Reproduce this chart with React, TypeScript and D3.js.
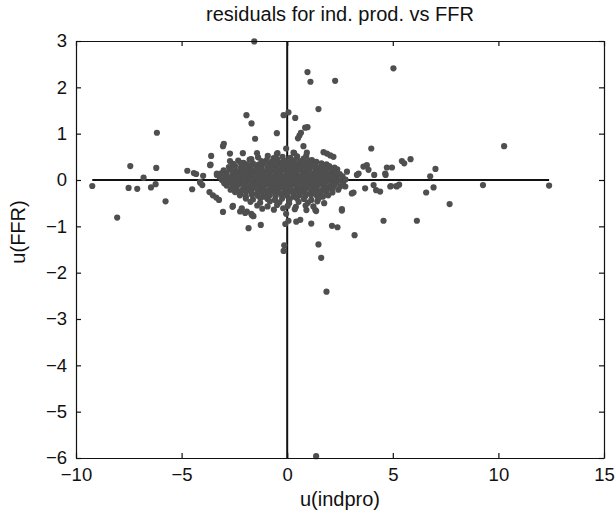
import React, { useEffect, useRef } from "react";
import * as d3 from "d3";

// residuals u(indpro) vs u(FFR), scattered points
const outerPoints: [number, number][] = [
  [-6.17, 1.02], [-3.04, 0.73], [-3.0, 0.78], [-3.6, 0.52], [-2.71, 0.57], [-3.63, 0.33],
  [-2.71, 0.41], [-7.43, 0.3], [-6.2, 0.26], [-6.8, 0.05], [-9.23, -0.13], [-7.51, -0.17],
  [-7.1, -0.19], [-6.45, -0.16], [-6.23, -0.09], [-5.76, -0.46], [-8.05, -0.81], [-4.73, 0.2],
  [-4.42, 0.15], [-4.31, 0.13], [-3.98, 0.09], [-4.12, -0.04], [-4.02, -0.11], [-4.5, -0.2],
  [-3.68, -0.26], [-3.52, -0.33], [-3.36, -0.38], [-3.23, -0.43], [-3.04, -0.69], [-2.59, -0.58],
  [-3.33, 0.11], [-3.65, 0.32], [-2.07, 0.37], [-3.33, 0.14], [-4.12, -0.06], [-2.57, -0.56],
  [-2.15, -0.61], [-1.91, -0.68], [-1.67, -0.76],
  [-1.56, 2.99], [0.96, 2.33], [1.1, 2.12], [2.27, 2.14], [1.48, 1.53], [-1.93, 1.4],
  [-1.69, 1.22], [-0.17, 1.4], [0.06, 1.46], [0.38, 1.34], [0.96, 1.14], [0.85, 1.13],
  [0.65, 1.02], [0.58, 0.96], [0.51, 0.9], [-0.49, 1.01], [-1.52, 0.89], [3.98, 0.68],
  [0.77, 0.73], [-0.05, 0.68], [0.3, 0.59], [1.72, 0.6], [1.88, 0.57], [2.04, 0.53],
  [2.19, 0.5], [0.93, 0.59], [0.9, 0.52], [-2.1, 0.58], [-1.43, 0.58], [-0.49, 0.56],
  [-0.46, 0.58], [0.33, 0.58], [1.17, 0.43],
  [5.03, 2.41], [10.27, 0.73], [5.84, 0.45], [5.43, 0.41], [5.54, 0.36], [4.72, 0.27],
  [4.96, 0.27], [4.66, 0.11], [7.02, 0.24], [6.77, 0.08], [4.91, -0.13], [5.16, -0.13],
  [5.3, -0.1], [6.58, -0.27], [6.93, -0.16], [9.27, -0.11], [12.4, -0.12], [4.4, -0.25],
  [4.56, -0.88], [6.14, -0.88], [7.69, -0.52], [3.61, 0.29], [3.77, 0.32], [3.3, 0.11],
  [3.38, 0.14], [3.85, 0.22], [4.12, 0.11], [2.83, 0.18], [4.64, 0.14], [5.19, -0.14],
  [4.88, -0.14], [4.09, -0.11], [4.21, -0.22], [3.69, -0.18], [3.14, -0.27], [3.06, -0.29],
  [2.75, -0.14], [2.59, -0.63], [1.33, -0.65], [1.75, -0.5],
  [-2.23, -0.68], [-1.99, -0.71], [-1.7, -0.73], [-1.6, -0.78], [-1.83, -1.04], [-1.25, -0.97],
  [-0.05, -0.73], [-0.09, -0.95], [0.06, -0.88], [0.43, -0.9], [0.62, -0.86], [1.14, -0.94],
  [1.37, -0.67], [2.59, -0.66], [2.12, -0.99], [2.38, -1.02], [3.19, -1.19], [1.48, -1.39],
  [1.61, -1.68], [1.86, -2.41], [-0.14, -1.41], [-0.17, -1.53], [1.37, -5.96],
];

// the dense blob around the origin
const corePoints: [number, number][] = [
  [-1.38, 0.49], [-0.92, 0.52], [-0.64, 0.47], [-0.22, 0.5], [0.14, 0.48], [0.47, 0.51], [0.78, 0.46], [-1.7, 0.45],
  [-2.32, 0.42], [-1.78, 0.44], [-1.22, 0.41], [-0.97, 0.43], [-0.71, 0.4], [-0.46, 0.44], [-0.16, 0.42], [0.08, 0.4],
  [0.36, 0.43], [0.62, 0.41], [1.04, 0.42], [1.38, 0.39],
  [-2.56, 0.35], [-2.21, 0.37], [-1.92, 0.34], [-1.62, 0.36], [-1.36, 0.33], [-1.09, 0.37], [-0.84, 0.35], [-0.61, 0.34],
  [-0.37, 0.37], [-0.13, 0.35], [0.11, 0.33], [0.33, 0.36], [0.56, 0.34], [0.81, 0.37], [1.06, 0.35], [1.31, 0.33],
  [1.62, 0.36], [1.86, 0.34],
  [-2.76, 0.28], [-2.47, 0.3], [-2.19, 0.27], [-1.96, 0.29], [-1.71, 0.31], [-1.44, 0.28], [-1.21, 0.3], [-0.94, 0.27],
  [-0.71, 0.29], [-0.48, 0.31], [-0.23, 0.28], [0.03, 0.3], [0.26, 0.27], [0.49, 0.29], [0.75, 0.31], [0.97, 0.28],
  [1.23, 0.3], [1.47, 0.27], [1.73, 0.29], [1.99, 0.3], [2.24, 0.27],
  [-3.01, 0.21], [-2.69, 0.23], [-2.43, 0.2], [-2.16, 0.22], [-1.89, 0.24], [-1.66, 0.21], [-1.39, 0.23], [-1.16, 0.2],
  [-0.89, 0.22], [-0.67, 0.24], [-0.42, 0.21], [-0.15, 0.23], [0.09, 0.2], [0.32, 0.22], [0.59, 0.24], [0.83, 0.21],
  [1.06, 0.23], [1.33, 0.2], [1.56, 0.22], [1.84, 0.24], [2.11, 0.21], [2.37, 0.23],
  [-3.16, 0.14], [-2.86, 0.16], [-2.57, 0.13], [-2.31, 0.15], [-2.04, 0.17], [-1.81, 0.14], [-1.54, 0.16], [-1.31, 0.13],
  [-1.04, 0.15], [-0.81, 0.17], [-0.54, 0.14], [-0.31, 0.16], [-0.04, 0.13], [0.21, 0.15], [0.44, 0.17], [0.71, 0.14],
  [0.94, 0.16], [1.21, 0.13], [1.44, 0.15], [1.71, 0.17], [1.95, 0.14], [2.23, 0.16], [2.49, 0.13],
  [-3.21, 0.07], [-2.94, 0.09], [-2.69, 0.06], [-2.44, 0.08], [-2.19, 0.1], [-1.93, 0.07], [-1.69, 0.09], [-1.43, 0.06],
  [-1.18, 0.08], [-0.93, 0.1], [-0.68, 0.07], [-0.43, 0.09], [-0.18, 0.06], [0.07, 0.08], [0.32, 0.1], [0.57, 0.07],
  [0.82, 0.09], [1.07, 0.06], [1.32, 0.08], [1.58, 0.1], [1.83, 0.07], [2.08, 0.09], [2.33, 0.06], [2.62, 0.08],
  [-3.09, 0.0], [-2.83, 0.02], [-2.57, -0.01], [-2.32, 0.01], [-2.06, 0.03], [-1.81, 0.0], [-1.56, 0.02], [-1.3, -0.01],
  [-1.05, 0.01], [-0.8, 0.03], [-0.55, 0.0], [-0.3, 0.02], [-0.05, -0.01], [0.2, 0.01], [0.45, 0.03], [0.7, 0.0],
  [0.95, 0.02], [1.2, -0.01], [1.46, 0.01], [1.71, 0.03], [1.96, 0.0], [2.21, 0.02], [2.47, -0.01], [2.76, 0.01],
  [-2.98, -0.07], [-2.71, -0.05], [-2.45, -0.08], [-2.2, -0.06], [-1.94, -0.04], [-1.69, -0.07], [-1.44, -0.05], [-1.18, -0.08],
  [-0.93, -0.06], [-0.68, -0.04], [-0.43, -0.07], [-0.18, -0.05], [0.07, -0.08], [0.33, -0.06], [0.58, -0.04], [0.83, -0.07],
  [1.08, -0.05], [1.33, -0.08], [1.59, -0.06], [1.84, -0.04], [2.09, -0.07], [2.34, -0.05], [2.64, -0.08],
  [-2.87, -0.12], [-2.6, -0.14], [-2.34, -0.11], [-2.08, -0.13], [-1.82, -0.15], [-1.57, -0.12], [-1.31, -0.14], [-1.06, -0.11],
  [-0.81, -0.13], [-0.56, -0.15], [-0.31, -0.12], [-0.06, -0.14], [0.2, -0.11], [0.45, -0.13], [0.7, -0.15], [0.95, -0.12],
  [1.21, -0.14], [1.46, -0.11], [1.71, -0.13], [1.97, -0.15], [2.22, -0.12], [2.51, -0.14],
  [-2.68, -0.21], [-2.41, -0.19], [-2.14, -0.22], [-1.89, -0.2], [-1.63, -0.18], [-1.38, -0.21], [-1.12, -0.19], [-0.87, -0.22],
  [-0.62, -0.2], [-0.37, -0.18], [-0.12, -0.21], [0.13, -0.19], [0.38, -0.22], [0.64, -0.2], [0.89, -0.18], [1.14, -0.21],
  [1.39, -0.19], [1.65, -0.22], [1.9, -0.2], [2.15, -0.18], [2.42, -0.21],
  [-2.47, -0.26], [-2.21, -0.28], [-1.95, -0.25], [-1.7, -0.27], [-1.44, -0.29], [-1.19, -0.26], [-0.94, -0.28], [-0.69, -0.25],
  [-0.43, -0.27], [-0.18, -0.29], [0.07, -0.26], [0.32, -0.28], [0.57, -0.25], [0.82, -0.27], [1.08, -0.29], [1.33, -0.26],
  [1.58, -0.28], [1.84, -0.25], [2.14, -0.27],
  [-2.24, -0.33], [-1.96, -0.35], [-1.67, -0.32], [-1.39, -0.34], [-1.1, -0.36], [-0.83, -0.33], [-0.55, -0.35], [-0.27, -0.32],
  [0.01, -0.34], [0.29, -0.36], [0.57, -0.33], [0.85, -0.35], [1.13, -0.32], [1.41, -0.34], [1.69, -0.36], [1.94, -0.33],
  [-1.96, -0.4], [-1.62, -0.42], [-1.27, -0.39], [-0.93, -0.41], [-0.58, -0.43], [-0.24, -0.4], [0.11, -0.42], [0.45, -0.39],
  [0.79, -0.41], [1.14, -0.43], [1.48, -0.4],
  [-1.74, -0.47], [-1.28, -0.49], [-0.82, -0.46], [-0.37, -0.48], [0.09, -0.5], [0.54, -0.47], [0.98, -0.49], [1.43, -0.46],
  [-1.42, -0.55], [-0.93, -0.57], [-0.48, -0.54], [0.02, -0.56], [0.41, -0.58], [0.87, -0.55], [1.24, -0.57],
  [-1.18, -0.62], [-0.63, -0.64], [-0.19, -0.61], [0.36, -0.63], [0.91, -0.65],
];

const xTicks = [-10, -5, 0, 5, 10, 15];
const yTicks = [3, 2, 1, 0, -1, -2, -3, -4, -5, -6];

const titleText = "residuals for ind. prod. vs FFR";
const xLabel = "u(indpro)";
const yLabel = "u(FFR)";

const App = () => {
  const ref = useRef<SVGSVGElement>(null);

  useEffect(() => {
    const width = 616;
    const height = 520;
    const margin = { top: 41, right: 12, bottom: 62, left: 76 };
    const font = "'Liberation Sans', Arial, Helvetica, sans-serif";

    const svg = d3.select(ref.current);
    svg.selectAll("*").remove();

    const x = d3.scaleLinear().domain([-10, 15]).range([margin.left, width - margin.right]);
    const y = d3.scaleLinear().domain([-6, 3]).range([height - margin.bottom, margin.top]);

    const all = outerPoints.concat(corePoints);
    const xExt = d3.extent(all, (d) => d[0]) as [number, number];

    // zero lines, drawn under the dots
    svg
      .append("line")
      .attr("x1", x(xExt[0]))
      .attr("x2", x(xExt[1]))
      .attr("y1", y(0))
      .attr("y2", y(0))
      .attr("stroke", "#111")
      .attr("stroke-width", 2);
    svg
      .append("line")
      .attr("x1", x(0))
      .attr("x2", x(0))
      .attr("y1", y(-6))
      .attr("y2", y(3))
      .attr("stroke", "#111")
      .attr("stroke-width", 2);

    svg
      .append("g")
      .selectAll("circle")
      .data(all)
      .enter()
      .append("circle")
      .attr("cx", (d) => x(d[0]))
      .attr("cy", (d) => y(d[1]))
      .attr("r", 3.1)
      .attr("fill", "#4f4f4f");

    const styleAxis = (g) => {
      g.attr("font-family", font).attr("font-size", 18.5);
      g.selectAll("path").attr("stroke", "#111").attr("stroke-width", 1.2);
      g.selectAll("line").attr("stroke", "#111").attr("stroke-width", 1.2);
      g.selectAll("text").attr("fill", "#111");
    };

    svg
      .append("g")
      .attr("transform", `translate(0,${height - margin.bottom})`)
      .call(d3.axisBottom(x).tickValues(xTicks).tickSize(-5).tickSizeOuter(0).tickPadding(10))
      .call(styleAxis);
    svg
      .append("g")
      .attr("transform", `translate(0,${margin.top})`)
      .call(d3.axisTop(x).tickValues(xTicks).tickSize(-5).tickSizeOuter(0).tickFormat(() => ""))
      .call(styleAxis);
    svg
      .append("g")
      .attr("transform", `translate(${margin.left},0)`)
      .call(d3.axisLeft(y).tickValues(yTicks).tickSize(-5).tickSizeOuter(0).tickPadding(9))
      .call(styleAxis);
    svg
      .append("g")
      .attr("transform", `translate(${width - margin.right},0)`)
      .call(d3.axisRight(y).tickValues(yTicks).tickSize(-5).tickSizeOuter(0).tickFormat(() => ""))
      .call(styleAxis);

    svg
      .append("text")
      .attr("x", (margin.left + width - margin.right) / 2)
      .attr("y", 21)
      .attr("text-anchor", "middle")
      .attr("font-family", font)
      .attr("font-size", 20)
      .attr("fill", "#111")
      .text(titleText);

    svg
      .append("text")
      .attr("x", (margin.left + width - margin.right) / 2)
      .attr("y", 506)
      .attr("text-anchor", "middle")
      .attr("font-family", font)
      .attr("font-size", 20)
      .attr("fill", "#111")
      .text(xLabel);

    svg
      .append("text")
      .attr("transform", `translate(25,232) rotate(-90)`)
      .attr("text-anchor", "middle")
      .attr("font-family", font)
      .attr("font-size", 20)
      .attr("fill", "#111")
      .text(yLabel);
  }, []);

  return (
    <svg
      ref={ref}
      width={616}
      height={520}
      style={{ position: "absolute", left: 0, top: 0, background: "#fff" }}
    />
  );
};

export default App;
